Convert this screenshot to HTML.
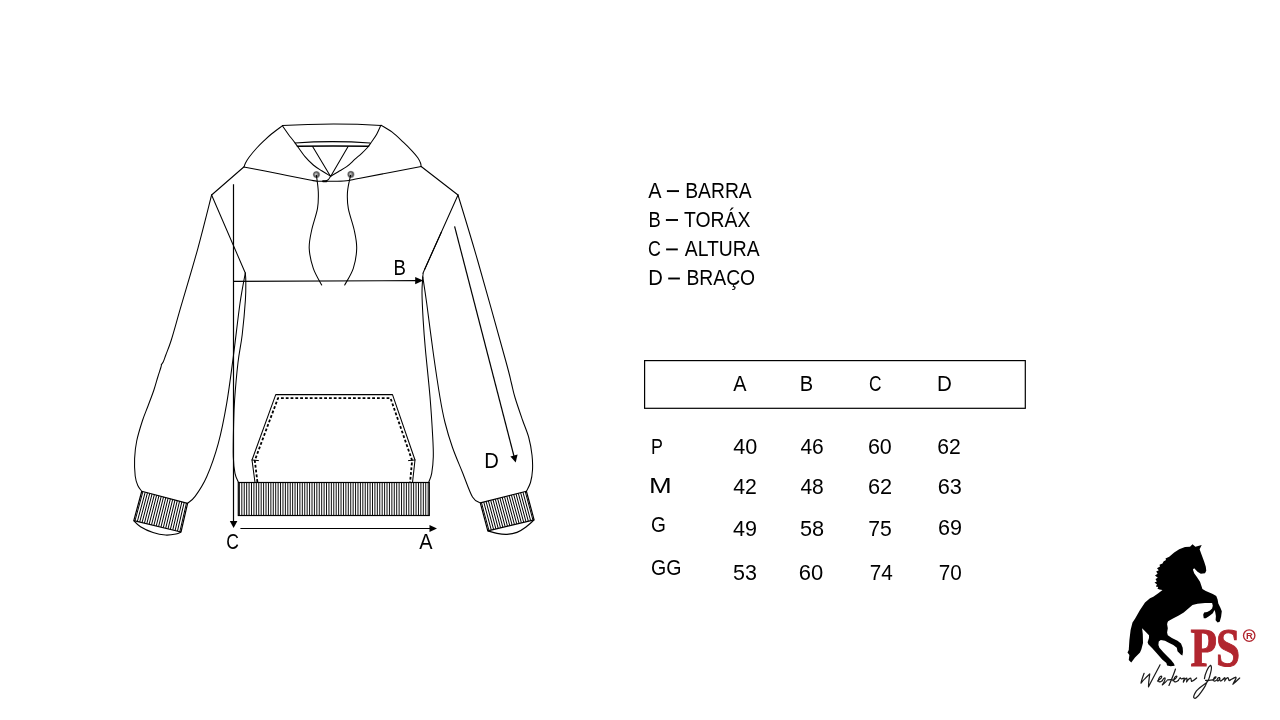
<!DOCTYPE html>
<html>
<head>
<meta charset="utf-8">
<style>
html,body{margin:0;padding:0;background:#fff;}
body{width:1280px;height:720px;overflow:hidden;position:relative;font-family:"Liberation Sans",sans-serif;}
svg{position:absolute;left:0;top:0;will-change:transform;}
.t{font-family:"Liberation Sans",sans-serif;font-size:21.3px;fill:#000;}
</style>
</head>
<body>
<svg width="1280" height="720" viewBox="0 0 1280 720">
<defs>
  <radialGradient id="gr" cx="50%" cy="50%" r="50%" fx="42%" fy="45%">
    <stop offset="0" stop-color="#e8e8e8"/>
    <stop offset="0.3" stop-color="#999"/>
    <stop offset="0.7" stop-color="#505050"/>
    <stop offset="1" stop-color="#bbb"/>
  </radialGradient>
</defs>

<!-- grommets -->
<circle cx="316.5" cy="174.6" r="3.7" fill="url(#gr)"/>
<circle cx="350.9" cy="174.4" r="3.7" fill="url(#gr)"/>
<g id="hoodie" fill="none" stroke="#000" stroke-width="1.05" stroke-linejoin="round" stroke-linecap="round">
  <path d="M282.4,125.6 Q331.8,122.6 381.2,125.4"/>
  <path d="M282.30,125.80 C280.54,127.12 274.76,131.30 271.75,133.75 C268.74,136.20 266.75,138.12 264.25,140.50 C261.75,142.88 259.25,145.25 256.75,148.00 C254.25,150.75 251.12,154.50 249.25,157.00 C247.38,159.50 246.38,161.33 245.50,163.00 C244.62,164.67 244.25,166.33 244.00,167.00"/>
  <path d="M381.10,125.20 C382.95,126.37 388.50,129.37 392.20,132.20 C395.90,135.03 399.97,139.05 403.30,142.20 C406.63,145.35 409.78,148.50 412.20,151.10 C414.62,153.70 416.40,155.77 417.80,157.80 C419.20,159.83 420.05,161.82 420.60,163.30 C421.15,164.78 421.02,166.13 421.10,166.70"/>
  <path d="M282.40,125.80 C283.38,127.20 286.20,131.35 288.30,134.20 C290.40,137.05 292.22,139.15 295.00,142.90 C297.78,146.65 301.95,153.02 305.00,156.70 C308.05,160.38 310.52,162.65 313.30,165.00 C316.08,167.35 318.82,168.93 321.70,170.80 C324.58,172.67 329.12,175.30 330.60,176.20"/>
  <path d="M380.80,125.40 C380.12,126.87 378.22,131.48 376.70,134.20 C375.18,136.92 373.23,139.48 371.70,141.70 C370.17,143.92 369.17,145.57 367.50,147.50 C365.83,149.43 363.78,151.35 361.70,153.30 C359.62,155.25 357.50,156.97 355.00,159.20 C352.50,161.43 349.48,164.62 346.70,166.70 C343.92,168.78 340.98,170.12 338.30,171.70 C335.62,173.28 331.88,175.45 330.60,176.20"/>
  <path d="M295.1,142.9 Q332.5,140.3 370,142.9"/>
  <path d="M297.5,146.3 Q333,145.6 368.5,146.3" stroke-width="1.6"/>
  <path d="M312.60,146.50 L330.60,176.40 L348.10,146.50"/>
  <path d="M243.80,167.00 C249.83,168.17 268.97,171.83 280.00,174.00 C291.03,176.17 303.78,178.80 310.00,180.00 C316.22,181.20 314.63,180.98 317.30,181.20 C319.97,181.42 322.72,181.30 326.00,181.30 C329.28,181.30 333.23,181.35 337.00,181.20 C340.77,181.05 344.77,180.90 348.60,180.40 C352.43,179.90 347.90,180.52 360.00,178.20 C372.10,175.88 411.00,168.45 421.20,166.50"/>
  <path d="M323.00,181.30 L326.50,181.30" stroke-width="1.9"/>
  <path d="M325.7,181.3 Q329,180 330.6,176.4"/>
  <path d="M316.40,175.20 C316.72,177.95 318.12,186.18 318.30,191.70 C318.48,197.22 318.60,201.92 317.50,208.30 C316.40,214.68 313.08,223.33 311.70,230.00 C310.32,236.67 308.93,241.92 309.20,248.30 C309.47,254.68 311.22,262.18 313.30,268.30 C315.38,274.42 320.30,282.22 321.70,285.00"/>
  <path d="M350.60,175.20 C350.08,177.95 347.88,186.18 347.50,191.70 C347.12,197.22 347.18,201.92 348.30,208.30 C349.42,214.68 352.80,223.33 354.20,230.00 C355.60,236.67 356.85,241.92 356.70,248.30 C356.55,254.68 355.30,262.18 353.30,268.30 C351.30,274.42 346.13,282.22 344.70,285.00"/>
  <path d="M243.80,167.00 L211.60,195.00"/>
  <path d="M421.20,166.50 L458.00,195.00"/>
  <path d="M211.60,195.00 L245.30,273.00"/>
  <path d="M211.60,195.00 C209.32,203.88 203.02,229.68 197.90,248.30 C192.78,266.92 185.33,291.42 180.90,306.70 C176.47,321.98 173.82,331.95 171.30,340.00 C168.78,348.05 167.13,351.37 165.80,355.00 C164.47,358.63 164.03,360.20 163.30,361.80 C162.57,363.40 161.72,364.13 161.40,364.60"/>
  <path d="M161.40,364.60 C161.33,365.00 161.60,364.93 161.00,367.00 C160.40,369.07 158.98,373.17 157.80,377.00 C156.62,380.83 155.53,385.17 153.90,390.00 C152.27,394.83 149.90,400.92 148.00,406.00 C146.10,411.08 144.38,414.67 142.50,420.50 C140.62,426.33 138.02,434.67 136.70,441.00 C135.38,447.33 134.85,452.67 134.60,458.50 C134.35,464.33 134.67,471.50 135.20,476.00 C135.73,480.50 136.71,482.96 137.80,485.50 C138.89,488.04 141.09,490.29 141.75,491.25"/>
  <path d="M245.30,273.00 C244.42,278.05 242.00,289.35 240.00,303.30 C238.00,317.25 235.52,340.03 233.30,356.70 C231.08,373.37 229.20,388.87 226.70,403.30 C224.20,417.73 221.63,431.07 218.30,443.30 C214.97,455.53 210.57,467.85 206.70,476.70 C202.83,485.55 198.28,491.97 195.10,496.40 C191.92,500.83 188.85,502.15 187.60,503.30"/>
  <path d="M245.30,273.00 C245.38,274.33 245.78,276.50 245.80,281.00 C245.82,285.50 246.00,291.05 245.40,300.00 C244.80,308.95 243.43,324.28 242.20,334.70 C240.97,345.12 239.27,351.62 238.00,362.50 C236.73,373.38 235.33,389.58 234.60,400.00 C233.87,410.42 233.82,415.55 233.60,425.00 C233.38,434.45 233.07,448.65 233.30,456.70 C233.53,464.75 234.17,469.08 235.00,473.30 C235.83,477.52 237.75,480.55 238.30,482.00"/>
  <path d="M458.00,195.00 L424.60,269.50"/>
  <path d="M441.30,232.25 C438.52,238.46 427.62,262.62 424.60,269.50 C421.58,276.38 423.50,272.25 423.20,273.50 C422.90,274.75 422.87,276.42 422.80,277.00"/>
  <path d="M458.00,195.00 C461.25,205.83 469.58,232.50 477.50,260.00 C485.42,287.50 499.88,339.58 505.50,360.00 C511.12,380.42 509.67,376.25 511.25,382.50 C512.83,388.75 513.12,391.25 515.00,397.50 C516.88,403.75 520.21,413.33 522.50,420.00 C524.79,426.67 527.17,431.67 528.75,437.50 C530.33,443.33 531.38,449.58 532.00,455.00 C532.62,460.42 532.75,465.42 532.50,470.00 C532.25,474.58 531.52,478.96 530.50,482.50 C529.48,486.04 527.08,489.79 526.40,491.25"/>
  <path d="M422.80,277.00 C423.45,281.38 424.95,290.58 426.70,303.30 C428.45,316.02 431.08,337.60 433.30,353.30 C435.52,369.00 438.05,385.97 440.00,397.50 C441.95,409.03 442.92,414.17 445.00,422.50 C447.08,430.83 449.58,439.17 452.50,447.50 C455.42,455.83 459.17,464.25 462.50,472.50 C465.83,480.75 469.53,491.93 472.50,497.00 C475.47,502.07 479.00,501.92 480.30,502.90"/>
  <path d="M422.80,277.00 C422.67,279.63 421.93,285.53 422.00,292.80 C422.07,300.07 422.65,311.35 423.20,320.60 C423.75,329.85 424.17,335.62 425.30,348.30 C426.43,360.98 428.77,381.97 430.00,396.70 C431.23,411.43 432.15,426.70 432.70,436.70 C433.25,446.70 433.47,450.60 433.30,456.70 C433.13,462.80 432.45,469.08 431.70,473.30 C430.95,477.52 429.28,480.55 428.80,482.00"/>
  <path d="M252,460 L258.5,460.6 M415,460 L408.5,460.6" stroke-width="1"/>
  <path d="M255.00,482.50 L252.00,460.00 L275.75,394.60 L392.50,394.60 L415.00,460.00 L412.50,482.50"/>
  <path d="M257.40,482.00 L254.80,460.50 L278.00,398.10 L390.50,398.10 L412.10,460.50 L410.10,482.00" stroke-width="1.8" stroke-dasharray="2.8,2.0" stroke-linecap="butt"/>
</g>

<!-- hem band -->
<path d="M239.40,482.5 V515.5 M241.82,482.5 V515.5 M244.24,482.5 V515.5 M246.66,482.5 V515.5 M249.08,482.5 V515.5 M251.50,482.5 V515.5 M253.92,482.5 V515.5 M256.34,482.5 V515.5 M258.76,482.5 V515.5 M261.18,482.5 V515.5 M263.60,482.5 V515.5 M266.02,482.5 V515.5 M268.44,482.5 V515.5 M270.86,482.5 V515.5 M273.28,482.5 V515.5 M275.70,482.5 V515.5 M278.12,482.5 V515.5 M280.54,482.5 V515.5 M282.96,482.5 V515.5 M285.38,482.5 V515.5 M287.80,482.5 V515.5 M290.22,482.5 V515.5 M292.64,482.5 V515.5 M295.06,482.5 V515.5 M297.48,482.5 V515.5 M299.90,482.5 V515.5 M302.32,482.5 V515.5 M304.74,482.5 V515.5 M307.16,482.5 V515.5 M309.58,482.5 V515.5 M312.00,482.5 V515.5 M314.42,482.5 V515.5 M316.84,482.5 V515.5 M319.26,482.5 V515.5 M321.68,482.5 V515.5 M324.10,482.5 V515.5 M326.52,482.5 V515.5 M328.94,482.5 V515.5 M331.36,482.5 V515.5 M333.78,482.5 V515.5 M336.20,482.5 V515.5 M338.62,482.5 V515.5 M341.04,482.5 V515.5 M343.46,482.5 V515.5 M345.88,482.5 V515.5 M348.30,482.5 V515.5 M350.72,482.5 V515.5 M353.14,482.5 V515.5 M355.56,482.5 V515.5 M357.98,482.5 V515.5 M360.40,482.5 V515.5 M362.82,482.5 V515.5 M365.24,482.5 V515.5 M367.66,482.5 V515.5 M370.08,482.5 V515.5 M372.50,482.5 V515.5 M374.92,482.5 V515.5 M377.34,482.5 V515.5 M379.76,482.5 V515.5 M382.18,482.5 V515.5 M384.60,482.5 V515.5 M387.02,482.5 V515.5 M389.44,482.5 V515.5 M391.86,482.5 V515.5 M394.28,482.5 V515.5 M396.70,482.5 V515.5 M399.12,482.5 V515.5 M401.54,482.5 V515.5 M403.96,482.5 V515.5 M406.38,482.5 V515.5 M408.80,482.5 V515.5 M411.22,482.5 V515.5 M413.64,482.5 V515.5 M416.06,482.5 V515.5 M418.48,482.5 V515.5 M420.90,482.5 V515.5 M423.32,482.5 V515.5 M425.74,482.5 V515.5 M428.16,482.5 V515.5" stroke="#000" stroke-width="0.95" fill="none"/>
<rect x="238.3" y="482.5" width="191" height="33" fill="none" stroke="#000" stroke-width="1.2"/>

<!-- left cuff -->
<clipPath id="clL"><path d="M141.75,491.25 L187.6,503.3 L181,532 L133.8,520.6 Z"/></clipPath>
<path d="M143.29,490.08 L134.58,522.35 M145.58,490.69 L136.95,522.92 M147.87,491.29 L139.31,523.49 M150.16,491.90 L141.67,524.06 M152.45,492.50 L144.04,524.63 M154.74,493.11 L146.40,525.19 M157.03,493.71 L148.76,525.76 M159.32,494.31 L151.13,526.33 M161.61,494.92 L153.49,526.90 M163.89,495.52 L155.85,527.47 M166.18,496.13 L158.22,528.04 M168.47,496.73 L160.58,528.60 M170.76,497.33 L162.94,529.17 M173.05,497.94 L165.31,529.74 M175.34,498.54 L167.67,530.31 M177.63,499.15 L170.03,530.88 M179.92,499.75 L172.40,531.45 M182.21,500.35 L174.76,532.01 M184.50,500.96 L177.12,532.58 M186.79,501.56 L179.49,533.15" stroke="#000" stroke-width="1.0" clip-path="url(#clL)"/>
<path d="M141.75,491.25 L187.6,503.3 L181,532 L133.8,520.6 Z" fill="none" stroke="#000" stroke-width="1.2" stroke-linejoin="round"/>
<path d="M133.80,520.60 C134.92,521.62 137.30,524.72 140.50,526.70 C143.70,528.68 148.83,531.12 153.00,532.50 C157.17,533.88 161.67,534.75 165.50,535.00 C169.33,535.25 173.42,534.50 176.00,534.00 C178.58,533.50 180.17,532.33 181.00,532.00" fill="none" stroke="#000" stroke-width="1.2"/>
<!-- right cuff -->
<clipPath id="clR"><path d="M480.3,502.9 L526.4,491.25 L534.1,519.8 L487.8,530.8 Z"/></clipPath>
<path d="M481.08,501.21 L489.33,531.92 M483.38,500.63 L491.65,531.37 M485.69,500.04 L493.96,530.82 M487.99,499.46 L496.28,530.28 M490.30,498.88 L498.59,529.73 M492.60,498.29 L500.91,529.18 M494.90,497.71 L503.23,528.63 M497.21,497.12 L505.54,528.08 M499.51,496.54 L507.86,527.53 M501.82,495.96 L510.17,526.99 M504.12,495.37 L512.49,526.44 M506.43,494.79 L514.80,525.89 M508.73,494.20 L517.12,525.34 M511.04,493.62 L519.43,524.79 M513.34,493.04 L521.75,524.24 M515.64,492.45 L524.07,523.70 M517.95,491.87 L526.38,523.15 M520.25,491.28 L528.70,522.60 M522.56,490.70 L531.01,522.05 M524.86,490.11 L533.33,521.50" stroke="#000" stroke-width="1.0" clip-path="url(#clR)"/>
<path d="M480.3,502.9 L526.4,491.25 L534.1,519.8 L487.8,530.8 Z" fill="none" stroke="#000" stroke-width="1.2" stroke-linejoin="round"/>
<path d="M487.80,530.80 C489.33,531.23 493.80,532.82 497.00,533.40 C500.20,533.98 503.67,534.47 507.00,534.30 C510.33,534.13 513.83,533.62 517.00,532.40 C520.17,531.18 523.15,529.10 526.00,527.00 C528.85,524.90 532.75,521.00 534.10,519.80" fill="none" stroke="#000" stroke-width="1.2"/>


<!-- measurement arrows -->
<g stroke="#000" stroke-width="1.2" fill="none">
  <path d="M233.5,184.3 L233.5,522"/>
  <path d="M233.5,281.4 L417,280.6"/>
  <path d="M240.4,528.5 L431,528.5"/>
  <path d="M454.6,226.3 L514.2,457"/>
</g>
<g fill="#000">
  <path d="M229.8,521.1 L237.4,521.1 L233.6,528 Z"/>
  <path d="M415.2,276.9 L423.2,280.5 L415.2,284.2 Z"/>
  <path d="M429.5,524.9 L437,528.5 L429.5,532.1 Z"/>
  <path d="M510.4,456.4 L517.6,454.5 L515.7,462.6 Z"/>
</g>
<rect x="644.6" y="360.6" width="380.7" height="47.7" fill="none" stroke="#000" stroke-width="1.2"/>
<g class="t">
  <text x="393.57" y="274.80" textLength="12.41" lengthAdjust="spacingAndGlyphs">B</text>
  <text x="226.21" y="549.30" textLength="12.66" lengthAdjust="spacingAndGlyphs">C</text>
  <text x="419.26" y="548.75" textLength="13.28" lengthAdjust="spacingAndGlyphs">A</text>
  <text x="484.34" y="467.80" textLength="14.63" lengthAdjust="spacingAndGlyphs">D</text>
  <text x="648.36" y="197.80" textLength="13.28" lengthAdjust="spacingAndGlyphs">A</text>
  <rect x="666.90" y="190.15" width="12.10" height="1.90"/>
  <text x="685.22" y="197.80" textLength="66.52" lengthAdjust="spacingAndGlyphs">BARRA</text>
  <text x="648.49" y="227.00" textLength="12.28" lengthAdjust="spacingAndGlyphs">B</text>
  <rect x="665.90" y="219.05" width="12.10" height="1.90"/>
  <text x="684.07" y="227.00" textLength="66.34" lengthAdjust="spacingAndGlyphs">TORÁX</text>
  <text x="647.99" y="255.80" textLength="12.89" lengthAdjust="spacingAndGlyphs">C</text>
  <rect x="666.10" y="248.45" width="11.70" height="1.90"/>
  <text x="684.76" y="256.00" textLength="74.87" lengthAdjust="spacingAndGlyphs">ALTURA</text>
  <text x="648.24" y="285.10" textLength="14.63" lengthAdjust="spacingAndGlyphs">D</text>
  <rect x="668.20" y="277.55" width="11.70" height="1.90"/>
  <text x="686.42" y="285.10" textLength="68.71" lengthAdjust="spacingAndGlyphs">BRAÇO</text>
  <text x="733.36" y="390.70" textLength="13.28" lengthAdjust="spacingAndGlyphs">A</text>
  <text x="799.85" y="390.70" textLength="13.41" lengthAdjust="spacingAndGlyphs">B</text>
  <text x="869.12" y="390.50" textLength="12.54" lengthAdjust="spacingAndGlyphs">C</text>
  <text x="937.11" y="390.70" textLength="14.88" lengthAdjust="spacingAndGlyphs">D</text>
  <text x="651.04" y="453.90" textLength="11.91" lengthAdjust="spacingAndGlyphs">P</text>
  <text x="733.30" y="453.60" textLength="24.04" lengthAdjust="spacingAndGlyphs">40</text>
  <text x="800.42" y="453.60" textLength="23.41" lengthAdjust="spacingAndGlyphs">46</text>
  <text x="867.91" y="453.60" textLength="23.93" lengthAdjust="spacingAndGlyphs">60</text>
  <text x="937.33" y="453.60" textLength="23.54" lengthAdjust="spacingAndGlyphs">62</text>
  <text x="649.01" y="493.30" textLength="22.73" lengthAdjust="spacingAndGlyphs">M</text>
  <text x="733.31" y="493.60" textLength="23.66" lengthAdjust="spacingAndGlyphs">42</text>
  <text x="800.42" y="493.60" textLength="23.40" lengthAdjust="spacingAndGlyphs">48</text>
  <text x="867.90" y="493.60" textLength="24.20" lengthAdjust="spacingAndGlyphs">62</text>
  <text x="937.70" y="493.60" textLength="24.16" lengthAdjust="spacingAndGlyphs">63</text>
  <text x="651.04" y="531.70" textLength="14.89" lengthAdjust="spacingAndGlyphs">G</text>
  <text x="733.10" y="535.50" textLength="24.02" lengthAdjust="spacingAndGlyphs">49</text>
  <text x="800.03" y="535.50" textLength="24.16" lengthAdjust="spacingAndGlyphs">58</text>
  <text x="868.21" y="535.60" textLength="23.58" lengthAdjust="spacingAndGlyphs">75</text>
  <text x="938.00" y="534.60" textLength="24.02" lengthAdjust="spacingAndGlyphs">69</text>
  <text x="651.02" y="575.20" textLength="30.45" lengthAdjust="spacingAndGlyphs">GG</text>
  <text x="732.94" y="579.50" textLength="23.90" lengthAdjust="spacingAndGlyphs">53</text>
  <text x="798.88" y="579.50" textLength="24.48" lengthAdjust="spacingAndGlyphs">60</text>
  <text x="869.84" y="579.60" textLength="23.07" lengthAdjust="spacingAndGlyphs">74</text>
  <text x="938.64" y="579.50" textLength="23.07" lengthAdjust="spacingAndGlyphs">70</text>
</g>

<g id="logo">
  <path fill="#000" d="M1192.50,544.20 L1195.40,546.70 L1201.70,545.00 L1199.60,549.20 L1201.70,555.00 L1204.20,561.70 L1205.80,566.70 L1206.25,570.80 L1205.00,573.30 L1200.80,573.75 L1197.50,571.70 L1194.20,568.30 L1192.90,569.60 L1194.20,573.30 L1196.70,576.70 L1200.00,581.70 L1201.70,586.70 L1202.40,589.00 L1205.80,591.10 L1212.80,593.90 L1216.25,596.00 L1217.60,599.40 L1218.30,603.60 L1220.40,607.80 L1221.80,611.25 L1221.10,616.80 L1219.70,621.70 L1217.60,622.40 L1215.60,620.30 L1215.90,616.10 L1215.20,611.90 L1214.50,609.90 L1212.80,613.30 L1209.30,616.10 L1205.80,618.20 L1203.75,618.20 L1203.20,614.70 L1204.10,612.60 L1207.20,611.90 L1210.00,610.60 L1212.10,608.50 L1212.80,605.70 L1212.10,602.90 L1205.00,603.10 L1197.50,603.75 L1192.50,605.00 L1188.10,608.75 L1183.75,612.50 L1178.75,615.60 L1172.50,618.75 L1168.10,621.25 L1167.50,622.50 L1167.10,624.20 L1167.80,628.30 L1167.10,632.50 L1167.80,635.30 L1171.90,638.10 L1177.50,640.80 L1181.00,643.60 L1182.70,647.80 L1183.00,651.90 L1182.40,655.40 L1181.00,654.70 L1177.50,651.25 L1176.80,647.80 L1173.30,645.00 L1169.20,642.90 L1165.00,640.80 L1160.80,640.10 L1158.75,641.50 L1158.40,645.00 L1159.40,647.80 L1163.60,652.60 L1167.80,656.80 L1171.25,660.30 L1174.00,663.75 L1174.70,665.80 L1170.60,666.20 L1167.10,665.50 L1166.40,663.00 L1162.20,659.60 L1157.40,654.00 L1152.50,648.50 L1148.30,644.30 L1147.60,642.20 L1149.00,638.00 L1149.00,635.30 L1145.60,631.80 L1142.10,628.30 L1142.80,633.90 L1143.00,642.90 L1141.40,649.20 L1140.00,652.50 L1135.00,657.50 L1131.25,662.50 L1128.75,660.00 L1129.40,655.00 L1127.50,652.50 L1128.75,650.00 L1129.40,640.00 L1130.60,630.00 L1132.50,622.50 L1135.00,618.75 L1140.00,610.00 L1145.00,602.50 L1150.00,598.30 L1153.30,596.70 L1158.30,593.30 L1162.50,590.00 L1159.50,589.50 L1157.50,588.80 L1158.20,587.00 L1155.80,586.50 L1157.00,584.50 L1154.50,582.50 L1156.80,581.50 L1155.50,579.00 L1157.80,577.80 L1155.00,575.50 L1157.60,573.80 L1156.20,571.50 L1158.80,570.20 L1157.00,568.20 L1160.00,566.50 L1159.50,564.80 L1162.50,563.50 L1163.50,561.50 L1166.00,560.00 L1165.50,558.50 L1169.20,556.70 L1174.20,552.50 L1179.20,549.20 L1185.00,547.10 L1190.00,546.70 Z"/>
  <text x="0" y="0" transform="translate(1190.5,665.6) scale(0.80,1)" font-family="Liberation Serif" font-weight="bold" font-size="54" fill="#b1262f" stroke="#b1262f" stroke-width="1" letter-spacing="-1">PS</text>
  <circle cx="1249.2" cy="635.6" r="5.7" fill="none" stroke="#b1262f" stroke-width="1.35"/>
  <text x="1249.4" y="639.1" font-family="Liberation Sans" font-weight="bold" font-size="9.5" fill="#b1262f" text-anchor="middle">R</text>
  <g transform="translate(1135,660) scale(0.08594)" fill="none" stroke="#1a1a1a" stroke-width="14" stroke-linecap="round" stroke-linejoin="round">
    <path d="M105.8,154.2 C89.5,197.9 73.1,241.5 70.4,268.8 C100.4,230.6 144,187 171.3,162.4 C165.8,214.2 154.9,268.8 157.6,312.4 C198.6,230.6 253.1,132.4 291.3,56"/>
    <path d="M262,245 C285,230 318,205 310,190 C295,183 266,215 273,245 C280,262 300,255 318,240"/>
    <path d="M318,240 C328,222 340,205 350,210 C356,225 335,262 318,290 C340,280 355,255 372,240"/>
    <path d="M471,105 C450,170 420,240 395,296"/>
    <path d="M380,232 C410,228 430,225 445,232"/>
    <path d="M440,240 C465,222 495,205 487,190 C472,183 445,215 452,245 C460,262 480,255 504,238"/>
    <path d="M504,238 C512,222 520,210 526,205 C530,215 535,222 542,220 C555,215 565,212 575,210 C570,230 566,245 563,255"/>
    <path d="M563,255 C575,230 592,210 602,210 C608,225 603,245 600,255 C615,230 635,210 648,210 C657,220 652,240 658,250 C680,240 700,225 717,209"/>
    <path d="M808,217 C815,160 850,80 879,62 C892,70 888,120 879,153 C870,190 860,220 853,237 C840,260 820,275 808,282 C775,305 735,335 715,360 C695,390 680,420 683,437 C690,450 705,446 712,440 C735,420 755,395 772,370 C792,342 810,315 821,295 C830,275 837,258 840,243"/>
    <path d="M821,237 C850,236 880,233 911,230"/>
    <path d="M905,232 C925,220 948,205 942,196 C930,190 910,215 915,238 C920,250 935,246 950,234"/>
    <path d="M985,205 C965,200 950,225 958,242 C968,250 980,230 988,212 C985,230 985,245 1000,245 C1010,240 1020,228 1028,222"/>
    <path d="M1028,222 C1035,210 1040,205 1045,205 C1050,215 1045,235 1043,245 C1055,222 1070,205 1082,205 C1090,212 1088,235 1095,240 C1100,238 1104,235 1108,232"/>
    <path d="M1108,232 C1130,220 1160,205 1175,200 C1185,205 1160,245 1138,282 C1160,265 1190,238 1218,210"/>
  </g>
</g>

</svg>
</body>
</html>
